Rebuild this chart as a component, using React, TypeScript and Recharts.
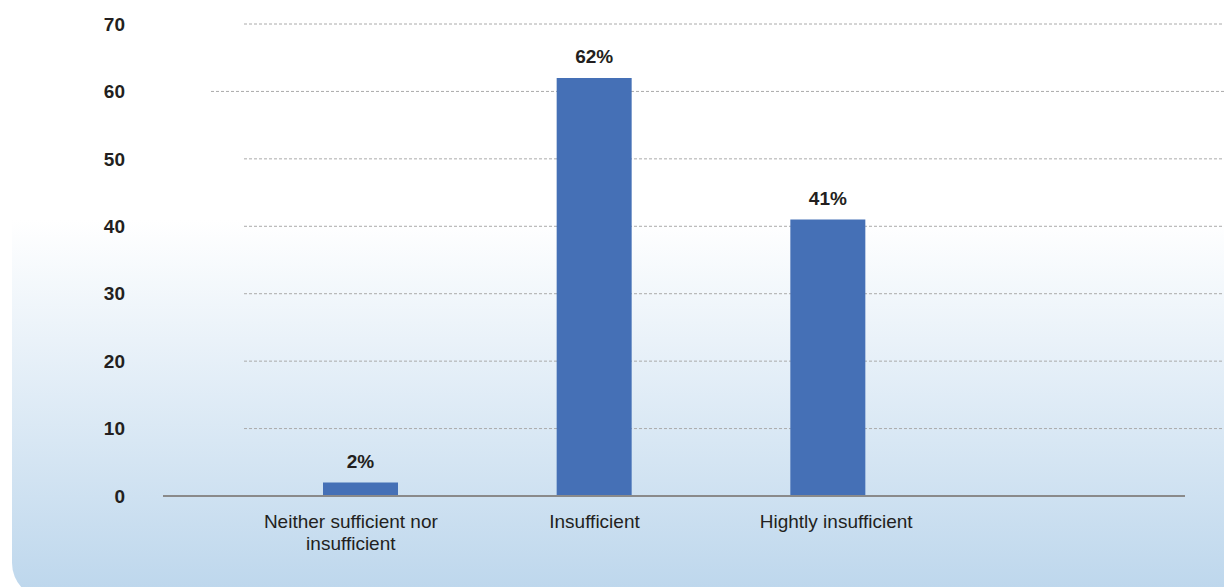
import { BarChart, Bar, XAxis, YAxis, CartesianGrid, LabelList, Text } from "recharts";

const categories = ["Neither sufficient nor insufficient", "Insufficient", "Hightly insufficient"];
const shares = [2, 62, 41];
const yTicks = [0, 10, 20, 30, 40, 50, 60, 70];

const data = categories.map((name, i) => ({ name, share: shares[i] }));

const FONT = "'Liberation Sans', Arial, sans-serif";
// small horizontal nudges the source applies to its category labels
const tickNudge = [-10, 0, 8];

const CategoryTick = (props: any) => {
  const { x, y, payload, index } = props;
  return (
    <Text x={x + (tickNudge[index] || 0)} y={y} width={200} textAnchor="middle" verticalAnchor="start"
      lineHeight={22} fontSize={19} fontFamily={FONT} fill="#231f20">
      {payload.value}
    </Text>
  );
};

const GridLine = (props: any) => {
  const { y1, index } = props;
  if (y1 > 490) return <g />;
  // the 60 line starts a bit further left in the original
  const start = index === 6 ? 211 : 244;
  return <line x1={start} x2={1224} y1={y1} y2={y1} stroke="#aaaaaa" strokeDasharray="3 2" strokeWidth={1} />;
};

export default function App() {
  return (
    <div style={{ position: "absolute", left: 0, top: 0, width: 1224, height: 587, overflow: "hidden", background: "#fff" }}>
      <div style={{
        position: "absolute", left: 12, top: 150, width: 1228, height: 449, borderRadius: 36,
        background: "linear-gradient(to bottom, #ffffff 0px, #ffffff 70px, #bcd6ec 449px)"
      }} />
      <div style={{ position: "absolute", left: 0, top: 0 }}>
        <BarChart width={1224} height={587} data={data} margin={{ top: 24, right: 39, bottom: 0, left: 0 }} barSize={75}>
          <CartesianGrid vertical={false} horizontal={GridLine} />
          <XAxis dataKey="name" padding={{ left: 81, right: 240 }} axisLine={{ stroke: "#8a8a8a", strokeWidth: 2 }}
            tickLine={false} tickSize={0} tickMargin={19} height={91} tick={<CategoryTick />} interval={0} />
          <YAxis domain={[0, 70]} ticks={yTicks} width={163} axisLine={false} tickLine={false} tickSize={0} tickMargin={38}
            tick={{ fontSize: 19, fontWeight: 700, fontFamily: FONT, fill: "#231f20" }} />
          <Bar dataKey="share" fill="#4570b6" isAnimationActive={false}>
            <LabelList dataKey="share" position="top" offset={15} formatter={(v: number) => `${v}%`}
              style={{ fontSize: 19, fontWeight: 700, fontFamily: FONT, fill: "#231f20" }} />
          </Bar>
        </BarChart>
      </div>
    </div>
  );
}
